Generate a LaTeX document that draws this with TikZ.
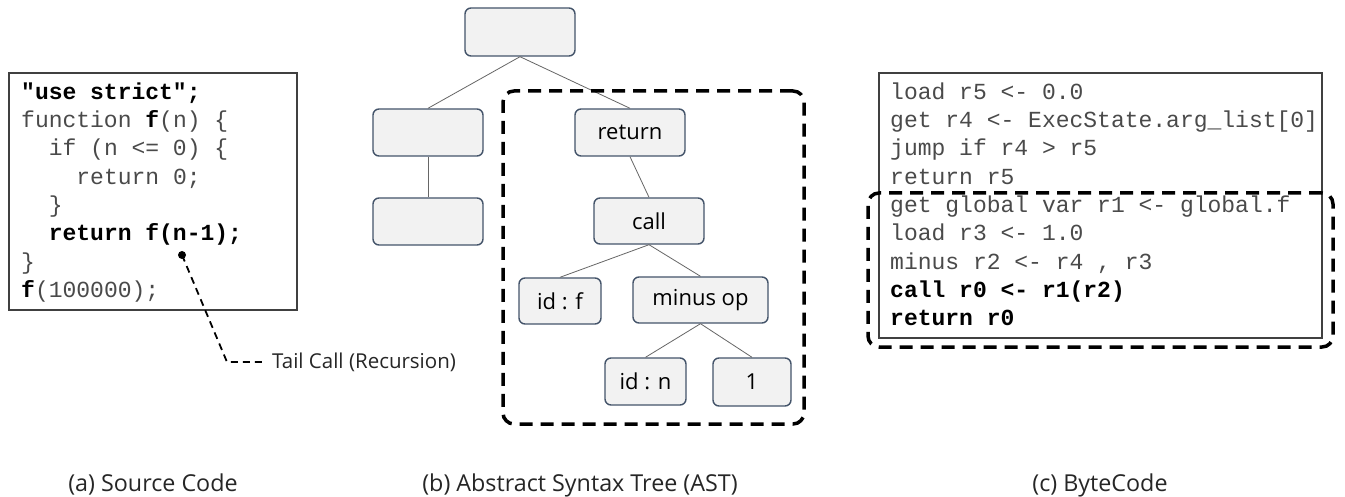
\documentclass[tikz,border=0pt]{standalone}
\usepackage{fontspec}
\setmainfont{Open Sans}
\setmonofont{Liberation Mono}
\usetikzlibrary{positioning}

\definecolor{boxfill}{HTML}{F2F2F2}
\definecolor{boxline}{HTML}{44546A}
\definecolor{codegray}{HTML}{4A4A4A}
\definecolor{frameline}{HTML}{404040}

\tikzset{
  astbox/.style={draw=boxline, fill=boxfill, line width=1.4pt, rounded corners=6pt,
    inner sep=0pt, font=\fontsize{22}{26}\selectfont, text=black},
  codeline/.style={anchor=base west, inner sep=0pt, text=codegray,
    font=\fontsize{23}{28}\ttfamily},
  boldline/.style={codeline, text=black, font=\fontsize{23}{28}\ttfamily\bfseries},
  codebox/.style={draw=frameline, line width=1.3pt, inner sep=0pt},
  focusframe/.style={draw=black, line width=3.5pt, dash pattern=on 13pt off 8pt,
    rounded corners=11pt, inner sep=0pt},
  treeedge/.style={draw=black!60, line width=0.8pt},
  label/.style={font=\fontsize{20.5}{24}\selectfont, text=black!85},
  caption/.style={font=\fontsize{23.3}{28}\selectfont, text=black!85, anchor=base, inner sep=0pt},
  pointer/.style={draw=black, line width=1.8pt, dash pattern=on 7pt off 5pt},
}

\begin{document}
\begin{tikzpicture}[x=1pt, y=-1pt]
  \useasboundingbox (0,0) rectangle (1345,497);
  \fill[white] (0,0) rectangle (1345,497);

  % ---- (a) source code ----
  \node[codebox, minimum width=288pt, minimum height=237pt] (srcbox) at (153,191.5) {};
  \node[boldline] (s1) at (21,99.3) {"use strict";};
  \node[codeline] (s2) at (21,127.6) {function \textbf{\color{black}f}(n) \{};
  \node[codeline] (s3) at (48.6,155.9) {if (n <= 0) \{};
  \node[codeline] (s4) at (76.2,184.2) {return 0;};
  \node[codeline] (s5) at (48.6,212.5) {\}};
  \node[boldline] (s6) at (48.6,240.8) {return f(n-1);};
  \node[codeline] (s7) at (21,269.1) {\}};
  \node[codeline] (s8) at (21,297.4) {\textbf{\color{black}f}(100000);};

  % tail-call pointer
  \coordinate (taildot) at (182,255);
  \coordinate (tailbend) at (227,362);
  \fill (taildot) circle (4pt);
  \node[label, anchor=west, inner sep=0pt] (tail) at (272,362) {Tail Call (Recursion)};
  \draw[pointer] (taildot) -- (tailbend) -- ([xshift=-9pt]tail.west);

  % ---- (b) abstract syntax tree ----
  \node[astbox, minimum width=110pt, minimum height=48pt] (root) at (520,32) {};
  \node[astbox, minimum width=110pt, minimum height=47pt] (lft1) at (428,132.5) {};
  \node[astbox, minimum width=110pt, minimum height=47pt] (lft2) at (428,221.5) {};
  \node[astbox, minimum width=110pt, minimum height=47pt] (ret) at (630,132.5) {return};
  \node[astbox, minimum width=110pt, minimum height=46pt] (call) at (649,221) {call};
  \node[astbox, minimum width=82pt, minimum height=46pt] (idf) at (560,301) {id : f};
  \node[astbox, minimum width=135pt, minimum height=46pt] (minus) at (700.5,300) {minus op};
  \node[astbox, minimum width=81pt, minimum height=47pt] (idn) at (645.5,381.5) {id : n};
  \node[astbox, minimum width=78pt, minimum height=48pt] (one) at (752,382) {1};

  \draw[treeedge] (root.south) -- (lft1.north);
  \draw[treeedge] (root.south) -- (ret.north);
  \draw[treeedge] (lft1.south) -- (lft2.north);
  \draw[treeedge] (ret.south) -- (call.north);
  \draw[treeedge] (call.south) -- (idf.north);
  \draw[treeedge] (call.south) -- (minus.north);
  \draw[treeedge] (minus.south) -- (idn.north);
  \draw[treeedge] (minus.south) -- (one.north);

  \node[focusframe, minimum width=301pt, minimum height=333pt] (astframe) at (653.5,257.5) {};

  % ---- (c) bytecode ----
  \node[codebox, minimum width=443pt, minimum height=265pt] (bcbox) at (1100.5,205.5) {};
  \node[codeline] (b1) at (890,99.3) {load r5 <- 0.0};
  \node[codeline] (b2) at (890,127.6) {get r4 <- ExecState.arg\_list[0]};
  \node[codeline] (b3) at (890,155.9) {jump if r4 > r5};
  \node[codeline] (b4) at (890,184.2) {return r5};
  \node[codeline] (b5) at (890,212.5) {get global var r1 <- global.f};
  \node[codeline] (b6) at (890,240.8) {load r3 <- 1.0};
  \node[codeline] (b7) at (890,269.1) {minus r2 <- r4 , r3};
  \node[boldline] (b8) at (890,297.4) {call r0 <- r1(r2)};
  \node[boldline] (b9) at (890,325.7) {return r0};

  \node[focusframe, minimum width=465pt, minimum height=154pt] (bcframe) at (1100.5,270) {};

  % ---- captions ----
  \node[caption] (capa) at (153,491) {(a) Source Code};
  \node[caption] (capb) at (580,491) {(b) Abstract Syntax Tree (AST)};
  \node[caption] (capc) at (1100,491) {(c) ByteCode};
\end{tikzpicture}
\end{document}
